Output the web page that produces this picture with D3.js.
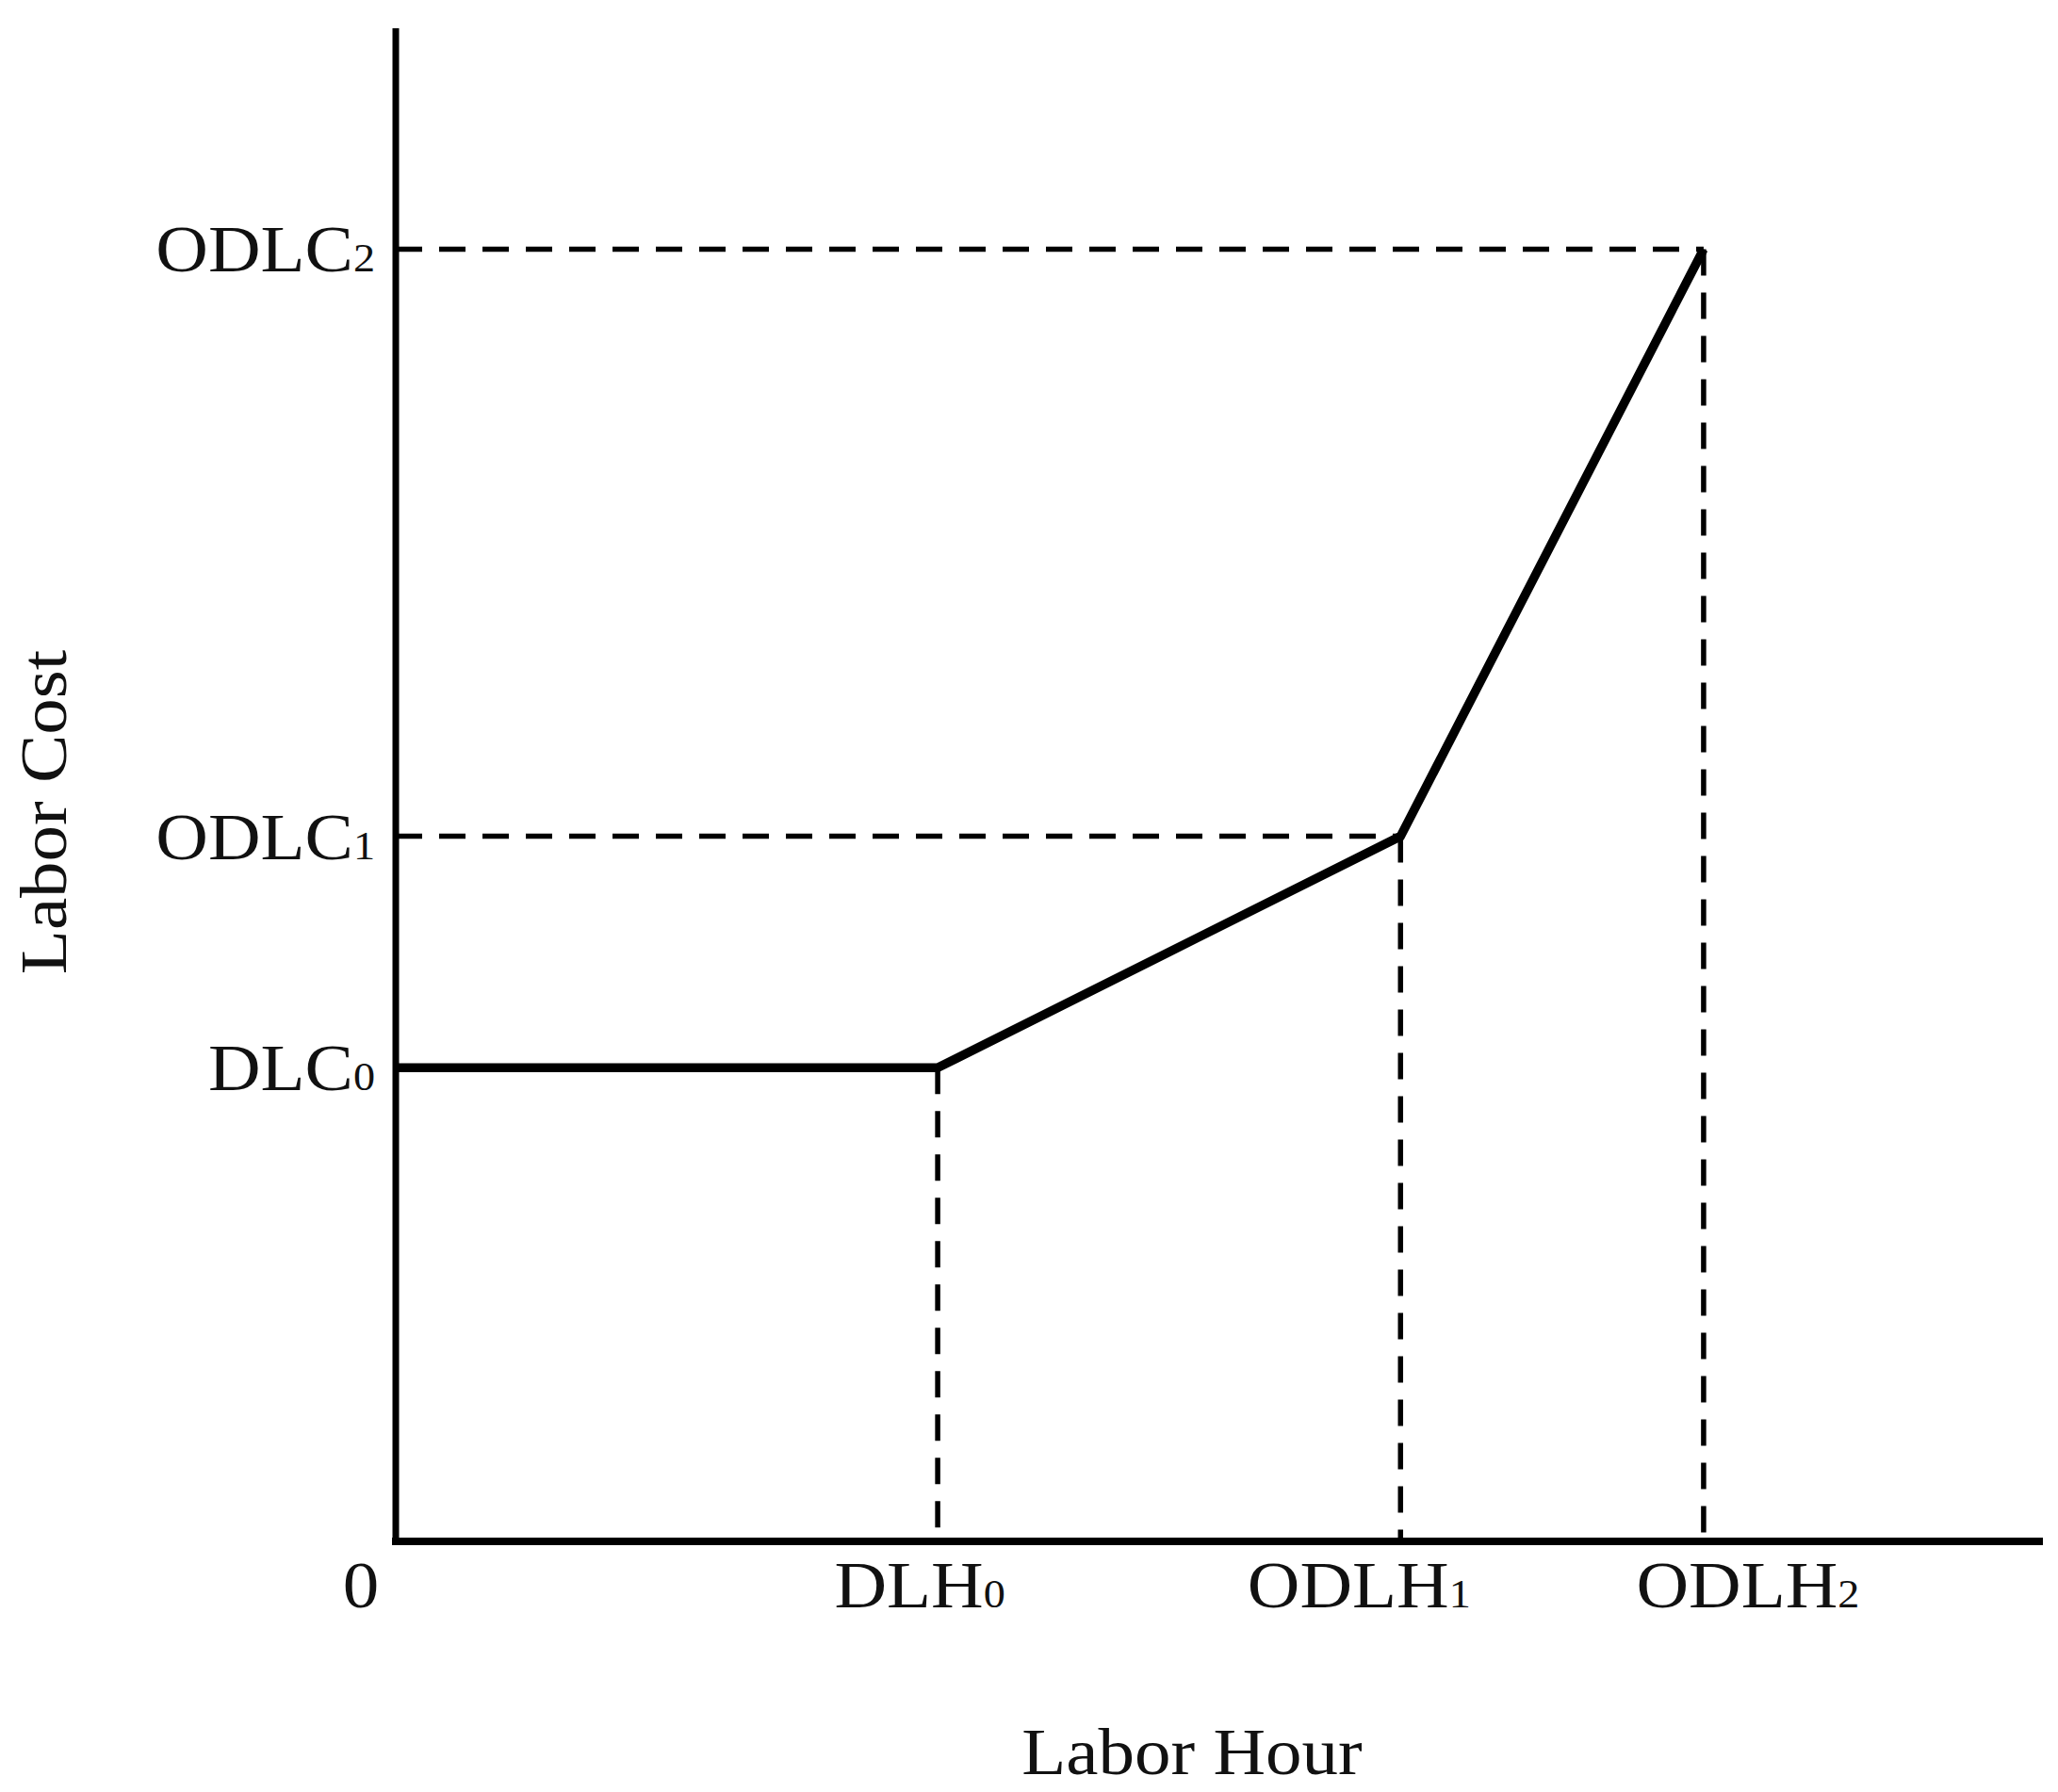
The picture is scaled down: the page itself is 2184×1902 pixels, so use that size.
<!DOCTYPE html>
<html>
<head>
<meta charset="utf-8">
<script src="https://cdn.jsdelivr.net/npm/d3@7"></script>
<style>
  body { margin: 0; background: #fff; }
  text { font-family: "Liberation Serif", "Times New Roman", serif; fill: #111; }
</style>
</head>
<body>
<div id="chart"></div>
<script>
// conceptual cost curve (arbitrary units)
const hourNames = ["DLH", "ODLH", "ODLH"];
const hourSubs = ["0", "1", "2"];
const hourValues = [32.9, 61.0, 79.4];

const costNames = ["DLC", "ODLC", "ODLC"];
const costSubs = ["0", "1", "2"];
const costValues = [31.3, 46.6, 85.4];

const width = 2184,
    height = 1902,
    margin = ({ top: 30, right: 16, bottom: 266, left: 420 });

const fontSize = 70,
    subSize = 42,
    stretch = 1.1; // the original face is wider than Times

// the x labels are not centred on their ticks in the original
const hourLabelShift = [-19, -44, 47];

let svg = d3.select("#chart")
    .append("svg")
    .attr("width", width)
    .attr("height", height)
    .attr("viewBox", [0, 0, width, height]);

let x = d3.scaleLinear()
    .domain([0, 100])
    .range([margin.left, width - margin.right]);

let y = d3.scaleLinear()
    .domain([0, 100])
    .range([height - margin.bottom, margin.top]);

// curve points: flat, then two rising segments
let points = [[0, costValues[0]]];
hourValues.forEach((h, i) => points.push([h, costValues[i]]));

// dashed guides
let guides = svg.append("g")
    .attr("stroke", "#000")
    .attr("stroke-width", 5.5)
    .attr("stroke-dasharray", "28 18")
    .attr("fill", "none");

hourValues.forEach((h, i) => {
    if (i > 0) {
        guides.append("line")
            .attr("x1", x(0)).attr("x2", x(h))
            .attr("y1", y(costValues[i])).attr("y2", y(costValues[i]));
    }
    guides.append("line")
        .attr("x1", x(h)).attr("x2", x(h))
        .attr("y1", y(costValues[i])).attr("y2", y(0));
});

// axes
svg.append("line")
    .attr("x1", x(0)).attr("x2", x(0))
    .attr("y1", y(100)).attr("y2", y(0) + 4)
    .attr("stroke", "#000").attr("stroke-width", 7);

svg.append("line")
    .attr("x1", x(0) - 4).attr("x2", x(100))
    .attr("y1", y(0)).attr("y2", y(0))
    .attr("stroke", "#000").attr("stroke-width", 8);

// the cost curve
svg.append("path")
    .datum(points)
    .attr("fill", "none")
    .attr("stroke", "#000")
    .attr("stroke-width", 9.5)
    .attr("stroke-linejoin", "miter")
    .attr("d", d3.line().x(d => x(d[0])).y(d => y(d[1])));

// text helper: place at (px, py), stretched horizontally
function label(px, py, anchor, name, sub) {
    let t = svg.append("text")
        .attr("transform", `translate(${px},${py}) scale(${stretch},1)`)
        .attr("text-anchor", anchor)
        .attr("font-size", fontSize);
    t.append("tspan").text(name);
    if (sub) t.append("tspan").attr("font-size", subSize).text(sub);
    return t;
}

// y labels
costNames.forEach((name, i) => {
    label(x(0) - 22, y(costValues[i]) + 24, "end", name, costSubs[i]);
});

// x labels
hourNames.forEach((name, i) => {
    label(x(hourValues[i]) + hourLabelShift[i], y(0) + 70, "middle", name, hourSubs[i]);
});

label(x(0) - 37, y(0) + 70, "middle", "0");

// axis titles
label(1265, 1883, "middle", "Labor Hour");

svg.append("text")
    .attr("transform", `translate(70,862) rotate(-90) scale(${stretch},1)`)
    .attr("text-anchor", "middle")
    .attr("font-size", fontSize)
    .text("Labor Cost");
</script>
</body>
</html>
